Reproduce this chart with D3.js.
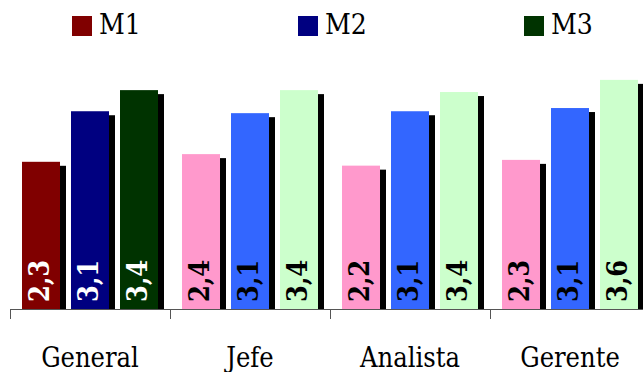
<!DOCTYPE html>
<html>
<head>
<meta charset="utf-8">
<script src="https://cdn.jsdelivr.net/npm/d3@7"></script>
<style>
  html, body { margin: 0; padding: 0; background: #fff; }
</style>
</head>
<body>
<svg id="chart" width="643" height="372"></svg>
<script>
// ---- data ----
const categories = ["General", "Jefe", "Analista", "Gerente"];
const series = ["M1", "M2", "M3"];
const m1 = [2.30, 2.42, 2.24, 2.33];
const m2 = [3.09, 3.06, 3.09, 3.14];
const m3 = [3.42, 3.42, 3.39, 3.58];
const legendColors = ["#800000", "#000080", "#003300"];
const lightColors = ["#FF99CC", "#3366FF", "#CCFFCC"];

const values = [m1, m2, m3];
const FONT = "'DejaVu Serif Condensed', 'DejaVu Serif', serif";

// ---- layout ----
const svg = d3.select("#chart");
const baseY = 309;
const x0 = d3.scaleBand().domain(categories).range([10, 650]).paddingInner(0).paddingOuter(0);
const x1 = d3.scaleBand().domain(series).range([12, 148]).paddingInner(11 / 49).paddingOuter(0);
const y = d3.scaleLinear().domain([0, 4]).range([baseY, 53]);
const fmt = v => d3.format(".1f")(v).replace(".", ",");

const rows = [];
categories.forEach((c, ci) => {
  series.forEach((s, si) => {
    rows.push({
      cat: c, ser: s, ci, si, v: values[si][ci],
      fill: ci === 0 ? legendColors[si] : lightColors[si],
      txt: ci === 0 ? "#ffffff" : "#000000"
    });
  });
});

const g = svg.append("g");
// shadows
g.selectAll("rect.shadow").data(rows).join("rect")
  .attr("class", "shadow")
  .attr("x", d => x0(d.cat) + x1(d.ser) + 6)
  .attr("y", d => y(d.v) + 4)
  .attr("width", x1.bandwidth())
  .attr("height", d => baseY - y(d.v) - 4)
  .attr("fill", "#000");
// bars
g.selectAll("rect.bar").data(rows).join("rect")
  .attr("class", "bar")
  .attr("x", d => x0(d.cat) + x1(d.ser))
  .attr("y", d => y(d.v))
  .attr("width", x1.bandwidth())
  .attr("height", d => baseY - y(d.v))
  .attr("fill", d => d.fill);
// value labels
g.selectAll("text.val").data(rows).join("text")
  .attr("class", "val")
  .attr("transform", d => `translate(${x0(d.cat) + x1(d.ser) + x1.bandwidth() / 2 + 8},${baseY - 7}) rotate(-90)`)
  .attr("text-anchor", "start")
  .style("font-family", FONT)
  .style("font-size", "27px")
  .style("font-weight", "bold")
  .attr("fill", d => d.txt)
  .text(d => fmt(d.v));

// axis
const axis = d3.axisBottom(x0).tickSizeInner(10).tickSizeOuter(0).tickFormat("");
const ag = svg.append("g").attr("transform", `translate(0,${baseY})`).call(axis);
ag.select(".domain").attr("stroke", "#555").attr("d", `M10,0.5H650`);
ag.selectAll(".tick").remove();
ag.selectAll("line.bound").data(categories).join("line")
  .attr("class", "bound")
  .attr("x1", d => Math.round(x0(d)) + 0.5).attr("x2", d => Math.round(x0(d)) + 0.5)
  .attr("y1", 0).attr("y2", 10)
  .attr("stroke", "#555");
// category labels
svg.selectAll("text.cat").data(categories).join("text")
  .attr("class", "cat")
  .attr("x", d => x0(d) + x0.bandwidth() / 2)
  .attr("y", 367)
  .attr("text-anchor", "middle")
  .style("font-family", FONT)
  .style("font-size", "27px")
  .attr("fill", "#000")
  .text(d => d);

// legend
const legendX = [72, 298, 524];
const lg = svg.selectAll("g.leg").data(series).join("g")
  .attr("class", "leg")
  .attr("transform", (d, i) => `translate(${legendX[i]},0)`);
lg.append("rect").attr("x", 0).attr("y", 16).attr("width", 20).attr("height", 20)
  .attr("fill", (d, i) => legendColors[i]);
lg.append("text").attr("x", 27).attr("y", 34)
  .style("font-family", FONT).style("font-size", "28px")
  .attr("fill", "#000")
  .text(d => d);
</script>
</body>
</html>
